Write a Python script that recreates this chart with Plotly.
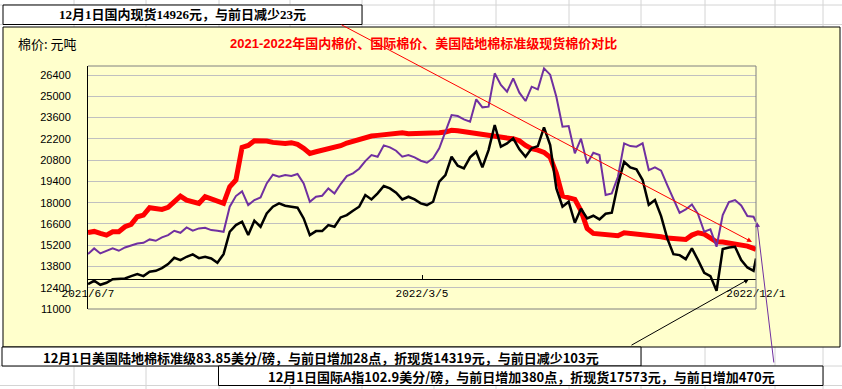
import plotly.graph_objects as go

# ---------------- data ----------------
dates = [
    "2021-06-07", "2021-06-12", "2021-06-17", "2021-06-22", "2021-06-27", "2021-07-02", "2021-07-07", "2021-07-12",
    "2021-07-17", "2021-07-22", "2021-07-27", "2021-08-01", "2021-08-06", "2021-08-11", "2021-08-16", "2021-08-21",
    "2021-08-26", "2021-08-31", "2021-09-05", "2021-09-10", "2021-09-15", "2021-09-20", "2021-09-25", "2021-09-30",
    "2021-10-05", "2021-10-10", "2021-10-15", "2021-10-20", "2021-10-25", "2021-10-30", "2021-11-04", "2021-11-09",
    "2021-11-14", "2021-11-19", "2021-11-24", "2021-11-29",
    "2021-12-04", "2021-12-09", "2021-12-14", "2021-12-19", "2021-12-24", "2021-12-29", "2022-01-03", "2022-01-08",
    "2022-01-13", "2022-01-18", "2022-01-23", "2022-01-28", "2022-02-02", "2022-02-07", "2022-02-12", "2022-02-17",
    "2022-02-22", "2022-02-27", "2022-03-04", "2022-03-09", "2022-03-14", "2022-03-19", "2022-03-24", "2022-03-29",
    "2022-04-03", "2022-04-08", "2022-04-13", "2022-04-18", "2022-04-23", "2022-04-28", "2022-05-03", "2022-05-08",
    "2022-05-13", "2022-05-18", "2022-05-23", "2022-05-28",
    "2022-06-02", "2022-06-07", "2022-06-12", "2022-06-17", "2022-06-22", "2022-06-27", "2022-07-02", "2022-07-07",
    "2022-07-12", "2022-07-17", "2022-07-22", "2022-07-27", "2022-08-01", "2022-08-06", "2022-08-11", "2022-08-16",
    "2022-08-21", "2022-08-26", "2022-08-31", "2022-09-05", "2022-09-10", "2022-09-15", "2022-09-20", "2022-09-25",
    "2022-09-30", "2022-10-05", "2022-10-10", "2022-10-15", "2022-10-20", "2022-10-25", "2022-10-30", "2022-11-04",
    "2022-11-09", "2022-11-14", "2022-11-19", "2022-11-24", "2022-11-29", "2022-12-01",
]

domestic = [
    16042, 16108, 15976, 15866, 16086, 16086, 16415, 16569, 17074, 17184, 17667, 17623, 17557, 17689, 18062, 18436,
    18172, 18062, 17952, 18392, 18238, 18172, 17952, 19050, 19489, 21643, 21773, 22081, 22081, 22059, 21971, 21905,
    21905, 21949, 21839, 21575,
    21246, 21356, 21444, 21510, 21598, 21751, 21927, 22059, 22190, 22300, 22388, 22432, 22476, 22520, 22586, 22608,
    22542, 22542, 22564, 22564, 22564, 22608, 22652, 22762, 22740, 22674, 22630, 22564, 22476, 22388, 22344, 22300,
    22256, 22212, 22081, 21773,
    21554, 21466, 21312, 20983, 19929, 18436, 18304, 18216, 17469, 16305, 15976, 15932, 15866, 15822, 15822, 16020,
    15976, 15976, 15954, 15888, 15822, 15756, 15668, 15625, 15581, 15581, 15866, 16020, 15932, 15690, 15427, 15405,
    15339, 15295, 15207, 15141, 14988, 14926,
]

us_upland = [
    12638, 12858, 12594, 12726, 12967, 12989, 13011, 13165, 13297, 13165, 13450, 13516, 13692, 13956, 14373, 14219,
    14439, 14592, 14351, 14439, 14329, 14043, 14614, 16086, 16525, 16745, 15866, 16811, 16415, 17294, 17733, 17952,
    17799, 17733, 17667, 16964,
    15866, 16130, 16130, 16525, 16415, 17030, 17184, 17469, 17733, 18501, 18216, 18611, 19094, 18941, 18655, 18216,
    18392, 18216, 17952, 17843, 18062, 19380, 19819, 21027, 20434, 20258, 20983, 21356, 20324, 21466, 23113, 21685,
    21905, 22234, 21510, 21027,
    21576, 21729, 22959, 21795, 18941, 17733, 18062, 16679, 17601, 16964, 17140, 16898, 17272, 17337, 19226, 20697,
    20324, 20192, 19489, 17864, 18172, 17118, 15646, 14614, 14549, 14285, 14988, 14219, 13385, 13165, 12199, 14944,
    15054, 15098, 14219, 13736, 13516, 14319,
]

intl_a = [
    14614, 14988, 14658, 14834, 14988, 14834, 15054, 15185, 15317, 15361, 15581, 15493, 15712, 15866, 16152, 16020,
    16371, 16152, 16305, 16349, 16195, 16152, 16086, 17733, 18436, 18743, 17843, 18172, 18348, 19270, 19841, 19709,
    19819, 19753, 19885, 19270,
    18062, 18392, 18457, 18941, 18611, 19226, 19753, 19929, 20236, 20741, 21136, 21027, 21773, 21642, 21422, 21027,
    21136, 20983, 20763, 20631, 20917, 21576, 22739, 23772, 23706, 23486, 23332, 24804, 24277, 24321, 26517, 25748,
    25309, 26187, 25243, 24694,
    25638, 25463, 26846, 26429, 24979, 23003, 23047, 21246, 22213, 20588, 21290, 21136, 18501, 18611, 19709, 21905,
    21729, 21685, 21905, 20148, 20324, 20104, 19160, 18282, 17337, 17557, 17886, 17250, 16086, 16240, 15098, 17184,
    18040, 18172, 17821, 17118, 17074, 16745,
]

x_tick_dates = ["2021-06-07", "2022-03-05", "2022-12-01"]
x_tick_labels = ["2021/6/7", "2022/3/5", "2022/12/1"]
y_min, y_max, y_step = 11000, 27000, 1400
x_axis_cross = 13000

title_text = "2021-2022年国内棉价、国际棉价、美国陆地棉标准级现货棉价对比"
unit_text = "棉价: 元吨"
box_top_text = "12月1日国内现货14926元，与前日减少23元"
box_us_text = "12月1日美国陆地棉标准级83.85美分/磅，与前日增加28点，折现货14319元，与前日减少103元"
box_intl_text = "12月1日国际A指102.9美分/磅，与前日增加380点，折现货17573元，与前日增加470元"

# ---------------- layout helpers ----------------
W, H = 842, 389
L, R, T, B = 88, 86, 66, 80
PW, PH = W - L - R, H - T - B


def fx(px):
    return (px - L) / PW


def fy(py):
    return (H - B - py) / PH


CJK = "Noto Sans CJK SC"
CHART_BG = "#FFFFCC"

fig = go.Figure()
fig.add_trace(go.Scatter(x=dates, y=domestic, mode="lines", name="国内棉价",
                         line=dict(color="#FF0000", width=5)))
fig.add_trace(go.Scatter(x=dates, y=intl_a, mode="lines", name="国际棉价",
                         line=dict(color="#7030A0", width=2)))
fig.add_trace(go.Scatter(x=dates, y=us_upland, mode="lines", name="美国陆地棉标准级",
                         line=dict(color="#000000", width=2.5)))

shapes = []
# spreadsheet cell grid
for gx in [74, 146, 219, 290, 362, 434, 496, 569, 641, 705, 775, 823]:
    shapes.append(dict(type="line", xref="paper", yref="paper", x0=fx(gx), x1=fx(gx), y0=fy(0), y1=fy(H),
                       line=dict(color="#D4D4D4", width=1), layer="below"))
for gy in [5, 24.5, 366, 385.5]:
    shapes.append(dict(type="line", xref="paper", yref="paper", x0=fx(0), x1=fx(W), y0=fy(gy), y1=fy(gy),
                       line=dict(color="#D4D4D4", width=1), layer="below"))
# chart area
shapes.append(dict(type="rect", xref="paper", yref="paper", x0=fx(3), x1=fx(840), y0=fy(347), y1=fy(27),
                   fillcolor=CHART_BG, line=dict(color="#000000", width=1), layer="below"))
# text boxes
for (bx0, by0, bx1, by1) in [(3, 5, 362, 24.5), (2, 347, 641, 366), (218.5, 366, 823, 385.5)]:
    shapes.append(dict(type="rect", xref="paper", yref="paper", x0=fx(bx0), x1=fx(bx1), y0=fy(by1), y1=fy(by0),
                       fillcolor="#FFFFFF", line=dict(color="#000000", width=1), layer="below"))
# plot-area border (top, right, bottom)
for (a0, b0, a1, b1) in [(0, 1, 1, 1), (1, 0, 1, 1), (0, 0, 1, 0)]:
    shapes.append(dict(type="line", xref="paper", yref="paper", x0=a0, y0=b0, x1=a1, y1=b1,
                       line=dict(color="#808080", width=1), layer="above"))

annotations = [
    dict(text=unit_text, x=fx(16), y=fy(44), xanchor="left", yanchor="middle",
         font=dict(family=CJK, size=13, color="#000000")),
    dict(text="<b>" + title_text + "</b>", x=fx(423), y=fy(44), xanchor="center", yanchor="middle",
         font=dict(family="Liberation Sans, " + CJK, size=13, color="#FF0000")),
    dict(text="<b>" + box_top_text + "</b>", x=fx(182.5), y=fy(15), xanchor="center", yanchor="middle",
         font=dict(family="Liberation Serif, " + CJK, size=13, color="#000000")),
    dict(text="<b>" + box_us_text + "</b>", x=fx(321), y=fy(357.5), xanchor="center", yanchor="middle",
         font=dict(family=CJK, size=13, color="#000000")),
    dict(text="<b>" + box_intl_text + "</b>", x=fx(521), y=fy(376.5), xanchor="center", yanchor="middle",
         font=dict(family=CJK, size=13, color="#000000")),
    # arrows
    dict(text="", x=fx(752), y=fy(242), ax=340 - 752, ay=24 - 242, showarrow=True,
         arrowhead=2, arrowsize=1, arrowwidth=1, arrowcolor="#FF0000"),
    dict(text="", x=fx(749), y=fy(279), ax=630 - 749, ay=346 - 279, showarrow=True,
         arrowhead=2, arrowsize=1, arrowwidth=1, arrowcolor="#000000"),
    dict(text="", x=fx(757), y=fy(222), ax=774 - 757, ay=364 - 222, showarrow=True,
         arrowhead=2, arrowsize=1, arrowwidth=1, arrowcolor="#7030A0"),
]
for a in annotations:
    a.setdefault("xref", "paper")
    a.setdefault("yref", "paper")
    a.setdefault("showarrow", False)

fig.update_layout(
    width=W, height=H,
    margin=dict(l=L, r=R, t=T, b=B, pad=0),
    paper_bgcolor="#FFFFFF",
    plot_bgcolor="rgba(0,0,0,0)",
    showlegend=False,
    shapes=shapes,
    annotations=annotations,
)

fig.update_yaxes(
    range=[y_min, y_max], tick0=y_min, dtick=y_step, tickformat="d",
    showgrid=True, gridcolor="#C0C0C0", gridwidth=1,
    showline=True, linecolor="#000000", linewidth=1,
    ticks="", zeroline=False, ticklabelstandoff=14,
    tickfont=dict(family="Liberation Sans", size=11, color="#000000"),
)
fig.update_xaxes(
    type="date", range=[x_tick_dates[0], x_tick_dates[-1]],
    tickvals=x_tick_dates, ticktext=x_tick_labels,
    anchor="free", position=(x_axis_cross - y_min) / (y_max - y_min),
    showline=True, linecolor="#000000", linewidth=1,
    ticks="inside", ticklen=4, tickcolor="#000000",
    showgrid=False, zeroline=False, ticklabelstandoff=4,
    tickfont=dict(family="Liberation Mono", size=11, color="#000000"),
)

fig.write_html(
    "out.html",
    config={"displayModeBar": False},
    post_script="document.body.style.margin='0px';document.body.style.overflow='hidden';",
)
